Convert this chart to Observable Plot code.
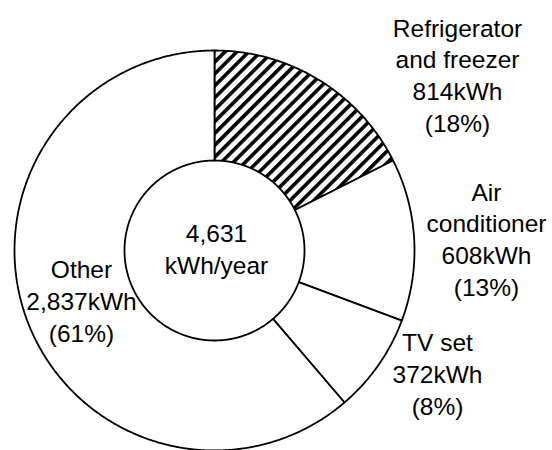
<!DOCTYPE html>
<html><head><meta charset="utf-8">
<script src="https://cdn.jsdelivr.net/npm/d3@7"></script>
<script src="https://cdn.jsdelivr.net/npm/@observablehq/plot@0.6"></script>
<style>body{margin:0;background:#fff}</style>
</head><body><div id="chart"></div>
<script>
// ---- data ----
const categories = ["Refrigerator and freezer", "Air conditioner", "TV set", "Other"];
const labelNames = ["Refrigerator\nand freezer", "Air\nconditioner", "TV set", "Other"];
const usageKWh = [814, 608, 372, 2837];
const hatched = [true, false, false, false];
const totalUnit = "kWh/year";

// ---- layout ----
const W = 552, H = 450;
const cx = 214, cy = 250, rOuter = 200, rInner = 90;
const labelAnchors = [[457, 131], [486, 295], [437, 414], [81, 341]];
const centerAnchor = [216, 273];
const fontSize = 24.5, lineHeight = 1.29;

const total = d3.sum(usageKWh);
const fmt = d3.format(",");
const pie = d3.pie().sort(null).value(d => d)(usageKWh);

const points = [];
pie.forEach((s, i) => {
  const a0 = s.startAngle, a1 = s.endAngle;
  const n = Math.max(2, Math.ceil((a1 - a0) / 0.005));
  const fill = hatched[i] ? "url(#hatch)" : "white";
  for (let k = 0; k <= n; k++) {
    const a = a0 + (a1 - a0) * k / n;
    points.push({key: categories[i], fill, x: rOuter * Math.sin(a), y: -rOuter * Math.cos(a)});
  }
  for (let k = n; k >= 0; k--) {
    const a = a0 + (a1 - a0) * k / n;
    points.push({key: categories[i], fill, x: rInner * Math.sin(a), y: -rInner * Math.cos(a)});
  }
});

const labels = categories.map((c, i) => ({
  text: `${labelNames[i]}\n${fmt(usageKWh[i])}kWh\n(${Math.round(usageKWh[i] / total * 100)}%)`,
  x: labelAnchors[i][0] - cx,
  y: labelAnchors[i][1] - cy
}));
labels.push({text: `${fmt(total)}\n${totalUnit}`, x: centerAnchor[0] - cx, y: centerAnchor[1] - cy});

const chart = Plot.plot({
  width: W, height: H,
  margin: 0,
  style: {fontFamily: "'Liberation Sans', Arial, sans-serif", background: "white"},
  x: {domain: [-cx, W - cx], range: [0, W], axis: null},
  y: {domain: [-cy, H - cy], range: [0, H], axis: null},
  color: {type: "identity"},
  marks: [
    Plot.line(points, {x: "x", y: "y", z: "key", fill: "fill", stroke: "black", strokeWidth: 1.8, curve: "linear-closed", strokeLinejoin: "round"}),
    Plot.text(labels, {x: "x", y: "y", text: "text", fontSize, lineHeight, lineAnchor: "bottom", textAnchor: "middle", fill: "black"})
  ]
});

d3.select(chart).insert("defs", ":first-child").html(
  `<pattern id="hatch" patternUnits="userSpaceOnUse" width="8.4" height="8.4" patternTransform="rotate(45)">
     <rect width="8.4" height="8.4" fill="white"/>
     <rect x="0" y="0" width="3.6" height="8.4" fill="black"/>
   </pattern>`);

document.getElementById("chart").appendChild(chart);
</script>
</body></html>
